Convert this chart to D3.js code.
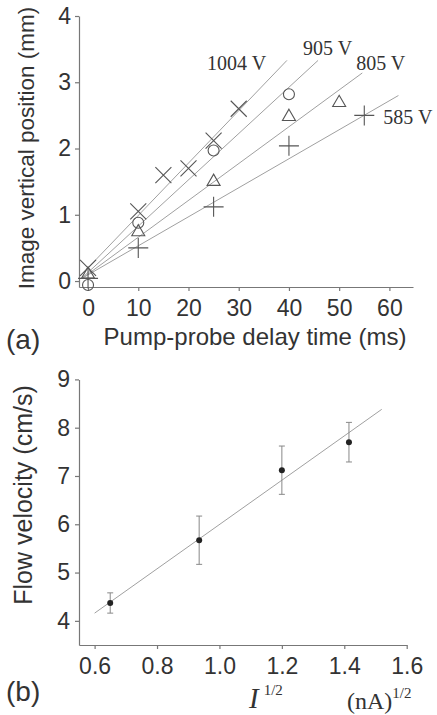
<!DOCTYPE html>
<html>
<head>
<meta charset="utf-8">
<script src="https://cdn.jsdelivr.net/npm/d3@7"></script>
<style>
  body { margin: 0; background: #fff; }
  svg { display: block; }
  .tick text { font-family: "Liberation Sans", Arial, sans-serif; fill: #333; }
  .domain, .tick line { stroke: #777; stroke-width: 1.2; }
</style>
</head>
<body>
<svg id="fig" width="437" height="715"></svg>
<script>
// panel (a): image position vs delay, one series per voltage
var voltages = ["1004 V", "905 V", "805 V", "585 V"];
var symbols = ["times", "circle", "triangle", "plus"];

var delay1004 = [0, 10, 15, 20, 25, 30];
var pos1004   = [0.2, 1.05, 1.6, 1.7, 2.12, 2.6];
var delay905  = [0, 10, 25, 40];
var pos905    = [-0.06, 0.88, 1.97, 2.82];
var delay805  = [0, 10, 25, 40, 50];
var pos805    = [0.1, 0.74, 1.5, 2.48, 2.69];
var delay585  = [0, 10, 25, 40, 55];
var pos585    = [0.04, 0.5, 1.12, 2.04, 2.5];

// fitted lines, two end points each (delay, position)
var fitDelay = [[-1, 39.6], [-1, 45.8], [-1, 54.6], [-1, 61.8]];
var fitPos   = [[0.12, 3.33], [0.06, 3.33], [0.05, 3.14], [0.05, 2.8]];

var delayTicks = [0, 10, 20, 30, 40, 50, 60];
var posTicks = [0, 1, 2, 3, 4];

// panel (b): flow velocity vs sqrt(I)
var sqrtI = [0.65, 0.935, 1.2, 1.415];
var velocity = [4.37, 5.67, 7.12, 7.70];
var velErr = [0.21, 0.5, 0.5, 0.41];
var fitI = [0.6, 1.52];
var fitV = [4.16, 8.38];

var iTicks = [0.6, 0.8, 1.0, 1.2, 1.4, 1.6];
var vTicks = [4, 5, 6, 7, 8, 9];

var svg = d3.select("#fig");

// open marker shapes, size = full width in px squared
var plusShape = { draw: function(c, size) {
  var r = Math.sqrt(size) / 2;
  c.moveTo(-r, 0); c.lineTo(r, 0); c.moveTo(0, -r); c.lineTo(0, r);
}};
var timesShape = { draw: function(c, size) {
  var r = Math.sqrt(size) / 2;
  c.moveTo(-r, -r); c.lineTo(r, r); c.moveTo(-r, r); c.lineTo(r, -r);
}};
var circleShape = { draw: function(c, size) {
  var r = Math.sqrt(size) / 2;
  c.moveTo(r, 0); c.arc(0, 0, r, 0, 2 * Math.PI);
}};
var triShape = { draw: function(c, size) {
  var w = Math.sqrt(size) / 2, h = w * Math.sqrt(3);
  c.moveTo(0, -h * 2 / 3); c.lineTo(w, h / 3); c.lineTo(-w, h / 3); c.closePath();
}};

var symbolType = {
  times: [timesShape, 16 * 16],
  circle: [circleShape, 11 * 11],
  triangle: [triShape, 13 * 13],
  plus: [plusShape, 20 * 20]
};

// ---------- panel (a) ----------
var xa = d3.scaleLinear().domain([-1.8, 64.7]).range([79, 413]);
var ya = d3.scaleLinear().domain([-0.09, 4]).range([287, 16]);

var ga = svg.append("g");

ga.append("g")
  .attr("transform", "translate(0," + ya(-0.09) + ")")
  .call(d3.axisBottom(xa).tickValues(delayTicks).tickSize(4).tickSizeOuter(0).tickPadding(9))
  .selectAll("text").style("font-size", "23px");

ga.append("g")
  .attr("transform", "translate(" + xa(-1.8) + ",0)")
  .call(d3.axisLeft(ya).tickValues(posTicks).tickFormat(d3.format("d")).tickSize(4).tickSizeOuter(0).tickPadding(4))
  .selectAll("text").style("font-size", "23px");

var seriesA = [
  {x: delay1004, y: pos1004},
  {x: delay905, y: pos905},
  {x: delay805, y: pos805},
  {x: delay585, y: pos585}
];

var line = d3.line().x(function(d) { return xa(d[0]); }).y(function(d) { return ya(d[1]); });

seriesA.forEach(function(s, i) {
  var pts = d3.zip(fitDelay[i], fitPos[i]);
  ga.append("path")
    .attr("d", line(pts))
    .attr("fill", "none")
    .attr("stroke", "#a0a0a0")
    .attr("stroke-width", 1);
});

seriesA.forEach(function(s, i) {
  var st = symbolType[symbols[i]];
  ga.append("g").selectAll("path")
    .data(d3.zip(s.x, s.y))
    .enter().append("path")
      .attr("transform", function(d) { return "translate(" + xa(d[0]) + "," + ya(d[1]) + ")"; })
      .attr("d", d3.symbol().type(st[0]).size(st[1]))
      .attr("fill", "none")
      .attr("stroke", "#555")
      .attr("stroke-width", 1.1);
});

// voltage labels near the ends of the fit lines
var labelAt = [[23.7, 3.18], [42.8, 3.41], [53.4, 3.18], [58.8, 2.37]];
ga.selectAll("text.volt")
  .data(voltages)
  .enter().append("text")
    .attr("class", "volt")
    .attr("x", function(d, i) { return xa(labelAt[i][0]); })
    .attr("y", function(d, i) { return ya(labelAt[i][1]); })
    .style("font-family", "'Liberation Serif', 'Times New Roman', serif")
    .style("font-size", "20px")
    .style("fill", "#333")
    .text(function(d) { return d; });

ga.append("text")
  .attr("transform", "translate(34,148) rotate(-90)")
  .attr("text-anchor", "middle")
  .style("font-family", "'Liberation Sans', Arial, sans-serif")
  .style("font-size", "22.5px")
  .style("fill", "#333")
  .text("Image vertical position (mm)");

ga.append("text")
  .attr("x", 255).attr("y", 345)
  .attr("text-anchor", "middle")
  .style("font-family", "'Liberation Sans', Arial, sans-serif")
  .style("font-size", "24px")
  .style("fill", "#333")
  .text("Pump-probe delay time (ms)");

ga.append("text")
  .attr("x", 6).attr("y", 349)
  .style("font-family", "'Liberation Sans', Arial, sans-serif")
  .style("font-size", "28px")
  .style("fill", "#333")
  .text("(a)");

// ---------- panel (b) ----------
var xb = d3.scaleLinear().domain([0.55, 1.6]).range([79, 406.7]);
var yb = d3.scaleLinear().domain([3.5, 9]).range([645, 379.4]);

var gb = svg.append("g");

gb.append("g")
  .attr("transform", "translate(0," + yb(3.5) + ")")
  .call(d3.axisBottom(xb).tickValues(iTicks).tickFormat(d3.format(".1f")).tickSize(4).tickSizeOuter(0).tickPadding(9))
  .selectAll("text").style("font-size", "23px");

gb.append("g")
  .attr("transform", "translate(" + xb(0.55) + ",0)")
  .call(d3.axisLeft(yb).tickValues(vTicks).tickFormat(d3.format("d")).tickSize(4).tickSizeOuter(0).tickPadding(5))
  .selectAll("text").style("font-size", "23px");

gb.append("path")
  .attr("d", d3.line().x(function(d) { return xb(d[0]); }).y(function(d) { return yb(d[1]); })(d3.zip(fitI, fitV)))
  .attr("fill", "none")
  .attr("stroke", "#a0a0a0")
  .attr("stroke-width", 1);

var pb = d3.zip(sqrtI, velocity, velErr);

var err = gb.append("g").attr("stroke", "#888").attr("stroke-width", 1);
err.selectAll("line.bar").data(pb).enter().append("line")
  .attr("x1", function(d) { return xb(d[0]); }).attr("x2", function(d) { return xb(d[0]); })
  .attr("y1", function(d) { return yb(d[1] - d[2]); }).attr("y2", function(d) { return yb(d[1] + d[2]); });
err.selectAll("line.top").data(pb).enter().append("line")
  .attr("x1", function(d) { return xb(d[0]) - 3; }).attr("x2", function(d) { return xb(d[0]) + 3; })
  .attr("y1", function(d) { return yb(d[1] + d[2]); }).attr("y2", function(d) { return yb(d[1] + d[2]); });
err.selectAll("line.bot").data(pb).enter().append("line")
  .attr("x1", function(d) { return xb(d[0]) - 3; }).attr("x2", function(d) { return xb(d[0]) + 3; })
  .attr("y1", function(d) { return yb(d[1] - d[2]); }).attr("y2", function(d) { return yb(d[1] - d[2]); });

gb.selectAll("circle").data(pb).enter().append("circle")
  .attr("cx", function(d) { return xb(d[0]); })
  .attr("cy", function(d) { return yb(d[1]); })
  .attr("r", 3)
  .attr("fill", "#222");

gb.append("text")
  .attr("transform", "translate(32,495) rotate(-90)")
  .attr("text-anchor", "middle")
  .style("font-family", "'Liberation Sans', Arial, sans-serif")
  .style("font-size", "25px")
  .style("fill", "#333")
  .text("Flow velocity (cm/s)");

gb.append("text")
  .attr("x", 6).attr("y", 701)
  .style("font-family", "'Liberation Sans', Arial, sans-serif")
  .style("font-size", "28px")
  .style("fill", "#333")
  .text("(b)");

var ilab = gb.append("text")
  .attr("x", 249).attr("y", 708)
  .style("font-family", "'Liberation Serif', 'Times New Roman', serif")
  .style("fill", "#333");
ilab.append("tspan").style("font-size", "29px").style("font-style", "italic").text("I");
ilab.append("tspan").attr("dx", 5).attr("dy", -13).style("font-size", "15px").text("1/2");

var ulab = gb.append("text")
  .attr("x", 347).attr("y", 709)
  .style("font-family", "'Liberation Serif', 'Times New Roman', serif")
  .style("fill", "#333");
ulab.append("tspan").style("font-size", "24px").text("(nA)");
ulab.append("tspan").attr("dy", -11).style("font-size", "15px").text("1/2");
</script>
</body>
</html>
